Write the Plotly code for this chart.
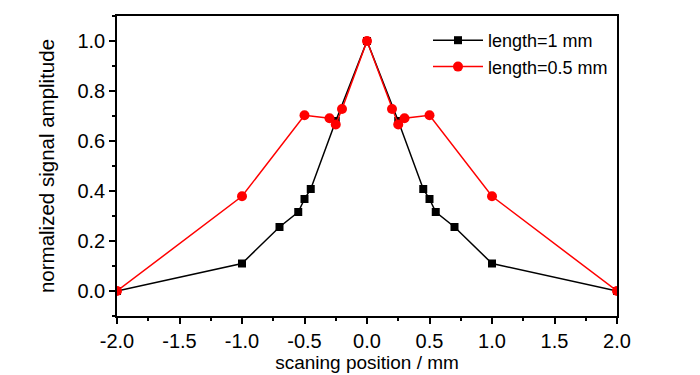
import plotly.graph_objects as go

# data
x_1mm = [-2, -1, -0.7, -0.55, -0.5, -0.45, -0.25, 0, 0.25, 0.45, 0.5, 0.55, 0.7, 1, 2]
y_1mm = [0, 0.11, 0.256, 0.316, 0.368, 0.408, 0.68, 1.0, 0.68, 0.408, 0.368, 0.316, 0.256, 0.11, 0]
x_05mm = [-2, -1, -0.5, -0.3, -0.25, -0.2, 0, 0.2, 0.25, 0.3, 0.5, 1, 2]
y_05mm = [0, 0.379, 0.703, 0.691, 0.666, 0.728, 1.0, 0.728, 0.666, 0.691, 0.703, 0.379, 0]
x_ticks = [-2.0, -1.5, -1.0, -0.5, 0.0, 0.5, 1.0, 1.5, 2.0]
y_ticks = [0.0, 0.2, 0.4, 0.6, 0.8, 1.0]

FONT = "Liberation Sans, Arial, sans-serif"

fig = go.Figure()
fig.add_trace(go.Scatter(
    x=x_1mm, y=y_1mm, mode="lines+markers", name="length=1 mm",
    line=dict(color="black", width=1.5),
    marker=dict(symbol="square", size=8, color="black"),
))
fig.add_trace(go.Scatter(
    x=x_05mm, y=y_05mm, mode="lines+markers", name="length=0.5 mm",
    line=dict(color="#ff0000", width=1.5),
    marker=dict(symbol="circle", size=10, color="#ff0000"),
))

axis_common = dict(
    showline=True, linecolor="black", linewidth=1.5, mirror=True,
    ticks="outside", ticklen=6, tickwidth=1.5, tickcolor="black",
    showgrid=False, zeroline=False, automargin=False,
    tickfont=dict(family=FONT, size=20, color="black"),
)

fig.update_xaxes(
    range=[-2, 2], tickvals=x_ticks, ticktext=[f"{v:.1f}" for v in x_ticks],
    minor=dict(ticks="outside", ticklen=3, tickwidth=1.5, tickcolor="black", dtick=0.25, tick0=0),
    title=dict(text="scaning position / mm", font=dict(family=FONT, size=19, color="black"), standoff=2),
    **axis_common,
)
fig.update_yaxes(
    range=[-0.1, 1.1], tickvals=y_ticks, ticktext=[f"{v:.1f}" for v in y_ticks],
    minor=dict(ticks="outside", ticklen=3, tickwidth=1.5, tickcolor="black", dtick=0.1, tick0=0),
    title=dict(text="normalized signal amplitude", font=dict(family=FONT, size=20.5, color="black"), standoff=17),
    **axis_common,
)

fig.update_layout(
    width=700, height=375,
    margin=dict(l=117, r=83, t=16, b=59),
    plot_bgcolor="white", paper_bgcolor="white",
    showlegend=True,
    legend=dict(
        x=0.622, y=0.98, xanchor="left", yanchor="top",
        bgcolor="rgba(0,0,0,0)", borderwidth=0,
        font=dict(family=FONT, size=18, color="black"),
        tracegroupgap=0, itemwidth=50,
    ),
)

fig.write_html("out.html", config={"displayModeBar": False},
               post_script="document.body.style.margin='0';")
